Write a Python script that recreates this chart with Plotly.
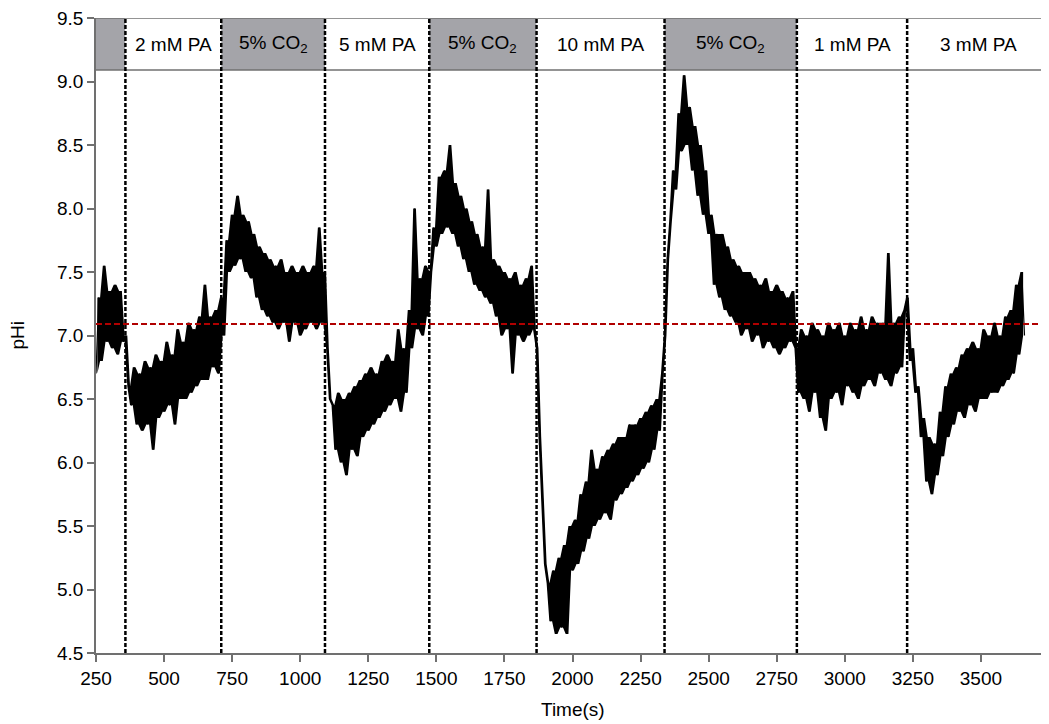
import plotly.graph_objects as go

# ---------------- data ----------------
time_start, time_step, time_end = 250, 10, 3660

phi_baseline = [6.7, 7.3, 6.8, 7.55, 6.95, 7.35, 6.9, 7.4, 6.85, 7.35, 6.95]
phi_2mM = [7.0, 6.6, 6.45, 6.75, 6.3, 6.7, 6.25, 6.8, 6.3, 6.75, 6.1, 6.85, 6.35, 6.8, 6.4,
           6.95, 6.45, 6.85, 6.3, 7.05, 6.5, 6.95, 6.5, 7.1, 6.55, 7.05, 6.6, 7.15, 6.65, 7.4,
           6.65, 7.15, 6.75, 7.2, 6.7]
phi_co2_a = [7.3, 7.0, 7.75, 7.5, 7.95, 7.55, 8.1, 7.6, 7.95, 7.5, 7.9, 7.45, 7.8, 7.3, 7.7,
             7.2, 7.65, 7.15, 7.6, 7.1, 7.55, 7.05, 7.6, 7.1, 7.5, 6.95, 7.55, 7.1, 7.5, 7.0,
             7.55, 7.05, 7.5, 7.1, 7.55, 7.05, 7.85, 7.1, 7.5]
phi_5mM = [6.9, 6.5, 6.45, 6.1, 6.55, 6.0, 6.5, 5.9, 6.55, 6.1, 6.6, 6.05, 6.65, 6.2, 6.7,
           6.25, 6.75, 6.3, 6.7, 6.35, 6.8, 6.4, 6.85, 6.45, 6.8, 6.5, 7.05, 6.4, 6.9, 6.55,
           7.2, 6.9, 8.0, 7.05, 7.45, 7.0, 7.55, 7.15]
phi_co2_b = [7.5, 7.85, 7.7, 8.25, 7.8, 8.3, 7.85, 8.5, 7.8, 8.2, 7.7, 8.1, 7.6, 8.0, 7.5,
             7.9, 7.4, 7.8, 7.35, 7.7, 7.3, 8.15, 7.25, 7.6, 7.15, 7.55, 7.0, 7.5, 7.05, 7.45,
             6.7, 7.5, 7.0, 7.4, 6.95, 7.45, 7.0, 7.55, 7.05]
phi_10mM = [6.9, 6.2, 5.7, 5.2, 5.05, 4.75, 5.15, 4.65, 5.25, 4.7, 5.35, 4.65, 5.5, 5.15, 5.55,
            5.2, 5.75, 5.3, 5.85, 5.4, 6.1, 5.5, 5.95, 5.55, 6.05, 5.6, 6.1, 5.55, 6.15, 5.7,
            6.2, 5.75, 6.2, 5.8, 6.3, 5.85, 6.3, 5.9, 6.35, 5.95, 6.4, 6.0, 6.45, 6.1, 6.5,
            6.25, 6.7]
phi_co2_c = [7.0, 7.6, 7.9, 8.3, 8.15, 8.75, 8.45, 9.05, 8.5, 8.8, 8.3, 8.65, 8.1, 8.5, 7.95,
             8.3, 7.8, 7.95, 7.4, 7.8, 7.3, 7.8, 7.2, 7.7, 7.15, 7.6, 7.1, 7.55, 7.0, 7.5,
             7.05, 7.5, 6.95, 7.45, 7.0, 7.4, 6.9, 7.45, 6.95, 7.35, 6.9, 7.4, 6.85, 7.35, 6.9,
             7.3, 6.95, 7.35, 6.9]
phi_1mM = [6.55, 7.05, 6.5, 7.0, 6.4, 7.1, 6.55, 7.05, 6.35, 7.0, 6.25, 7.1, 6.5, 7.05, 6.55,
           7.1, 6.45, 7.0, 6.6, 7.1, 6.55, 7.05, 6.5, 7.15, 6.6, 7.05, 6.65, 7.15, 6.6, 7.1,
           6.7, 7.1, 6.65, 7.65, 6.6, 7.1, 6.7, 7.15, 6.75, 7.2]
phi_3mM = [7.3, 6.8, 6.9, 6.55, 6.6, 6.2, 6.35, 5.85, 6.2, 5.75, 6.15, 5.9, 6.4, 6.05, 6.6,
           6.2, 6.7, 6.3, 6.75, 6.4, 6.85, 6.35, 6.9, 6.45, 6.95, 6.4, 6.9, 6.5, 7.05, 6.5,
           7.0, 6.55, 7.1, 6.55, 7.0, 6.6, 7.15, 6.65, 7.2, 6.7, 7.4, 6.85, 7.5, 7.0]

# condition periods (band labels and boundaries, s)
period_labels = ["", "2 mM PA", "5% CO<sub>2</sub>", "5 mM PA", "5% CO<sub>2</sub>",
                 "10 mM PA", "5% CO<sub>2</sub>", "1 mM PA", "3 mM PA"]
period_edges = [250, 358, 710, 1091, 1474, 1868, 2338, 2824, 3229, 3750]
period_gray = [True, False, True, False, True, False, True, False, False]

reference_phi = 7.09
header_bottom, header_top = 9.09, 9.5
x_ticks = [250, 500, 750, 1000, 1250, 1500, 1750, 2000, 2250, 2500, 2750, 3000, 3250, 3500]

# ---------------- build ----------------
phi = (phi_baseline + phi_2mM + phi_co2_a + phi_5mM + phi_co2_b + phi_10mM
       + phi_co2_c + phi_1mM + phi_3mM)
time_s = list(range(time_start, time_end + 1, time_step))
assert len(time_s) == len(phi), (len(time_s), len(phi))

# vertical extent swept by each segment of the trace (to render the dense trace solid)
seg_t = [(time_s[i] + time_s[i + 1]) / 2 for i in range(len(phi) - 1)]
seg_hi = [max(phi[i], phi[i + 1]) for i in range(len(phi) - 1)]
seg_lo = [min(phi[i], phi[i + 1]) for i in range(len(phi) - 1)]

FONT = "Liberation Sans, Arial, sans-serif"
FS = 19
AXIS_GRAY = "#707070"
BAND_GRAY = "#a4a4a9"

fig = go.Figure()
fig.add_trace(go.Scatter(x=seg_t, y=seg_lo, mode="lines", line=dict(width=0, color="black"),
                         hoverinfo="skip", showlegend=False))
fig.add_trace(go.Scatter(x=seg_t, y=seg_hi, mode="lines", line=dict(width=0, color="black"),
                         fill="tonexty", fillcolor="black",
                         hoverinfo="skip", showlegend=False))
fig.add_trace(go.Scatter(x=time_s, y=phi, mode="lines",
                         line=dict(color="black", width=1.2), hoverinfo="skip",
                         showlegend=False))

shapes = []
for i, lab in enumerate(period_labels):
    x0, x1 = period_edges[i], period_edges[i + 1]
    shapes.append(dict(type="rect", xref="x", yref="y", x0=x0, x1=x1,
                       y0=header_bottom, y1=header_top, line=dict(width=0),
                       fillcolor=BAND_GRAY if period_gray[i] else "white", layer="below"))
for yv in (header_bottom, header_top):
    shapes.append(dict(type="line", xref="x", yref="y", x0=period_edges[0],
                       x1=period_edges[-1], y0=yv, y1=yv,
                       line=dict(color=AXIS_GRAY, width=1.5)))
shapes.append(dict(type="line", xref="x", yref="y", x0=period_edges[0], x1=period_edges[-1],
                   y0=reference_phi, y1=reference_phi,
                   line=dict(color="#b00000", width=2, dash="6px,3px")))
for xv in period_edges[1:-1]:
    shapes.append(dict(type="line", xref="x", yref="y", x0=xv, x1=xv, y0=4.5, y1=header_top,
                       line=dict(color="black", width=2.5, dash="4px,2px")))

annotations = []
for i, lab in enumerate(period_labels):
    if not lab:
        continue
    annotations.append(dict(x=(period_edges[i] + period_edges[i + 1]) / 2,
                            y=(header_bottom + header_top) / 2, xref="x", yref="y",
                            text=lab, showarrow=False,
                            font=dict(family=FONT, size=FS, color="black")))
# axis titles
annotations.append(dict(x=0, y=0.5, xref="paper", yref="paper", text="pHi",
                        textangle=-90, showarrow=False, xanchor="center", yanchor="middle",
                        xshift=-79, font=dict(family=FONT, size=FS, color="black")))
annotations.append(dict(x=0.5, y=0, xref="paper", yref="paper", text="Time(s)",
                        showarrow=False, xanchor="center", yanchor="middle",
                        yshift=-56, font=dict(family=FONT, size=FS, color="black")))

# the page places the figure 8 px in from the top-left corner
fig.update_layout(
    width=1041, height=716,
    margin=dict(l=88, r=0, t=10, b=71, autoexpand=False),
    paper_bgcolor="white", plot_bgcolor="white",
    shapes=shapes, annotations=annotations,
    font=dict(family=FONT, size=FS, color="black"),
    xaxis=dict(range=[250, 3750], tickvals=x_ticks, ticktext=[str(v) for v in x_ticks],
               showgrid=False, zeroline=False, showline=True, linecolor=AXIS_GRAY,
               linewidth=1.5, ticks="outside", ticklen=7, tickcolor=AXIS_GRAY,
               tickwidth=1.5, automargin=False, ticklabeloverflow="allow",
               tickfont=dict(family=FONT, size=FS, color="black")),
    yaxis=dict(range=[4.5, 9.5], dtick=0.5, tick0=4.5, tickformat=".1f",
               showgrid=False, zeroline=False, showline=True, linecolor=AXIS_GRAY,
               linewidth=1.5, ticks="outside", ticklen=7, tickcolor=AXIS_GRAY,
               tickwidth=1.5, automargin=False, ticklabeloverflow="allow",
               tickfont=dict(family=FONT, size=FS, color="black")),
)

fig.write_html("out.html")
